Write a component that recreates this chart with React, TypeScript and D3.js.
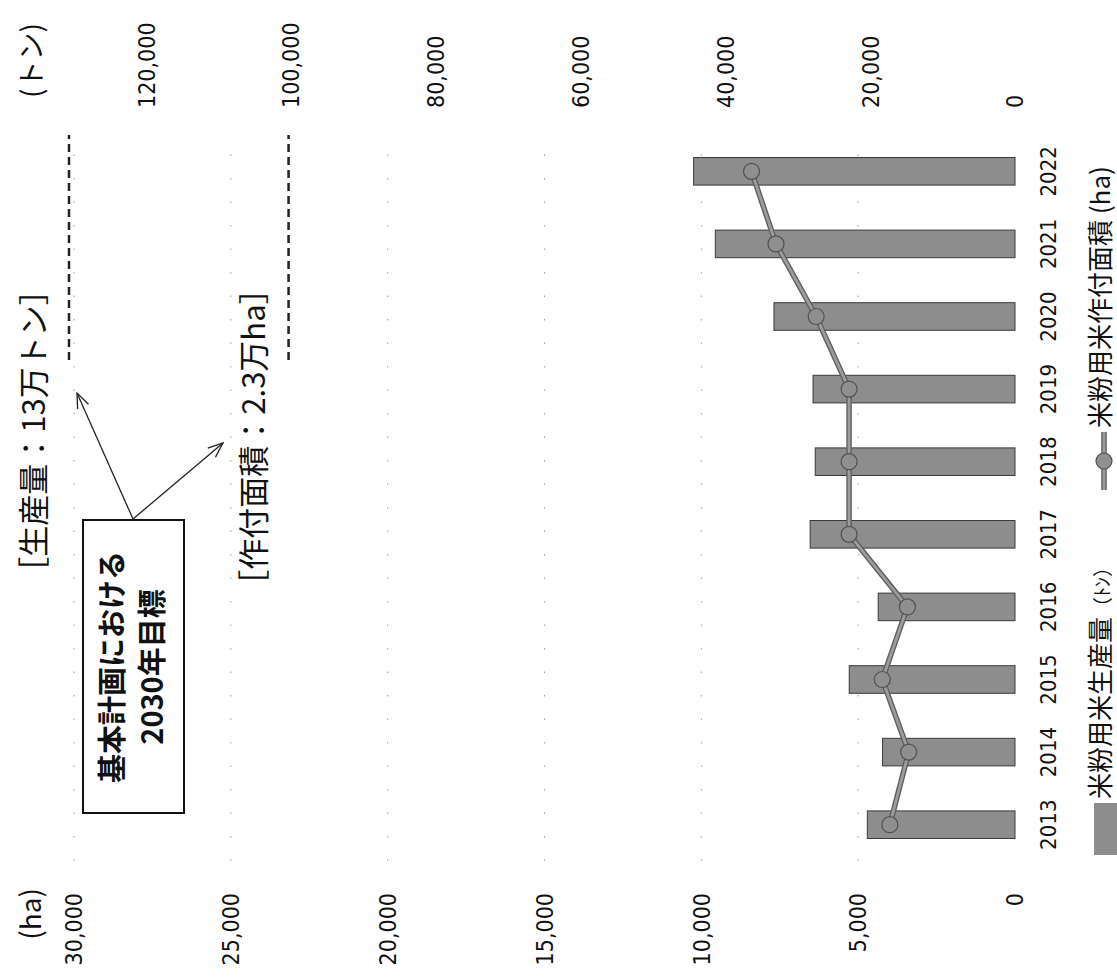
import React from 'react';
import * as d3 from 'd3';

// ---- data ----
const years = ['2013', '2014', '2015', '2016', '2017', '2018', '2019', '2020', '2021', '2022'];
const production = [20400, 18300, 22900, 18900, 28300, 27600, 27900, 33300, 41400, 44400]; // トン
const area = [3990, 3390, 4230, 3430, 5290, 5290, 5290, 6340, 7620, 8400]; // ha
const haTicks = [0, 5000, 10000, 15000, 20000, 25000, 30000];
const tonTicks = [0, 20000, 40000, 60000, 80000, 100000, 120000];
const targetTon = 130000;
const targetHa = 23000;

const IMG_W = 1117;
const IMG_H = 977;

const CJK = "'Noto Sans CJK JP', 'Noto Sans CJK SC', sans-serif";
const NUM = "'DejaVu Sans Condensed', 'Liberation Sans', sans-serif";

export default function App() {
  // frame of the unrotated chart (width 977, height 1117), then rotated -90deg
  const plotLeft = 116;
  const plotRight = 842;
  const plotTop = 74;
  const plotBottom = 1015;

  const x = d3.scaleBand<string>().domain(years).range([plotLeft, plotRight]).paddingInner(0.62).paddingOuter(0.31);
  const yL = d3.scaleLinear().domain([0, 30000]).range([plotBottom, plotTop]);
  const yR = d3.scaleLinear().domain([0, 130000]).range([plotBottom, plotTop]);
  const fmt = d3.format(',');

  const lineGen = d3
    .line<number>()
    .x((_, i) => (x(years[i]) as number) + x.bandwidth() / 2)
    .y((d) => yL(d));
  const linePath = lineGen(area) || '';

  const tonLineV = yR(targetTon) - 5;
  const haLineV = yL(targetHa) - 5;

  const apex = { u: 458, v: 133 };
  const tip1 = { u: 584, v: tonLineV + 8 };
  const tip2 = { u: 534, v: 223 };

  const arrowHead = (from: { u: number; v: number }, to: { u: number; v: number }) => {
    const ang = Math.atan2(to.v - from.v, to.u - from.u);
    const len = 16;
    const spread = 0.38;
    const a1 = ang + Math.PI - spread;
    const a2 = ang + Math.PI + spread;
    return `M${to.u + len * Math.cos(a1)},${to.v + len * Math.sin(a1)}L${to.u},${to.v}L${to.u + len * Math.cos(a2)},${to.v + len * Math.sin(a2)}`;
  };

  return (
    <svg
      width={IMG_W}
      height={IMG_H}
      style={{ position: 'absolute', left: 0, top: 0, background: '#fff' }}
    >
      <rect x={0} y={0} width={IMG_W} height={IMG_H} fill="#fff" />
      <g transform={`translate(0,${IMG_H}) rotate(-90)`}>
        {/* gridlines (faint dotted) */}
        {haTicks.slice(1).map((t) => (
          <line
            key={'g' + t}
            x1={plotLeft}
            x2={plotRight}
            y1={yL(t)}
            y2={yL(t)}
            stroke="#9a9a9a"
            strokeWidth={1}
            strokeDasharray="1.5 22"
          />
        ))}

        {/* bars */}
        {production.map((d, i) => (
          <rect
            key={'b' + i}
            x={x(years[i])}
            y={yR(d)}
            width={x.bandwidth()}
            height={plotBottom - yR(d)}
            fill="#8d8d8d"
            stroke="#3a3a3a"
            strokeWidth={1}
          />
        ))}

        {/* line */}
        <path d={linePath} fill="none" stroke="#5e5e5e" strokeWidth={5.5} />
        <path d={linePath} fill="none" stroke="#9c9c9c" strokeWidth={2.8} />
        {area.map((d, i) => (
          <circle
            key={'m' + i}
            cx={(x(years[i]) as number) + x.bandwidth() / 2}
            cy={yL(d)}
            r={8}
            fill="#8f8f8f"
            stroke="#505050"
            strokeWidth={1.2}
          />
        ))}

        {/* left axis labels (ha) */}
        {haTicks.map((t) => (
          <text
            key={'l' + t}
            x={84}
            y={yL(t)}
            dy="0.36em"
            textAnchor="end"
            fontFamily={NUM}
            fontSize={23}
            fill="#111"
          >
            {fmt(t)}
          </text>
        ))}
        {/* right axis labels (トン) */}
        {tonTicks.map((t) => (
          <text
            key={'r' + t}
            x={869}
            y={yR(t)}
            dy="0.36em"
            textAnchor="start"
            fontFamily={NUM}
            fontSize={23}
            fill="#111"
          >
            {fmt(t)}
          </text>
        ))}
        {/* category labels */}
        {years.map((yv) => (
          <text
            key={'c' + yv}
            x={(x(yv) as number) + x.bandwidth() / 2}
            y={1056}
            textAnchor="middle"
            fontFamily={NUM}
            fontSize={22}
            fill="#111"
          >
            {yv}
          </text>
        ))}

        {/* units */}
        <text x={89} y={41} textAnchor="end" fontFamily={CJK} fontSize={28} fill="#111">
          (ha)
        </text>
        <text x={879} y={42} textAnchor="start" fontFamily={CJK} fontSize={28} fill="#111">
          (トン)
        </text>

        {/* target lines */}
        <line
          x1={617}
          x2={plotRight}
          y1={tonLineV}
          y2={tonLineV}
          stroke="#222"
          strokeWidth={2.5}
          strokeDasharray="8 5"
        />
        <line
          x1={617}
          x2={plotRight}
          y1={haLineV}
          y2={haLineV}
          stroke="#222"
          strokeWidth={2.5}
          strokeDasharray="8 5"
        />
        <text x={546} y={45} textAnchor="middle" fontFamily={CJK} fontSize={31} fill="#111">
          ［生産量：13万トン］
        </text>
        <text x={540} y={265} textAnchor="middle" fontFamily={CJK} fontSize={31} fill="#111">
          ［作付面積：2.3万ha］
        </text>

        {/* annotation box */}
        <rect x={164} y={83} width={293} height={101} fill="#fff" stroke="#111" strokeWidth={2} />
        <text x={310} y={123} textAnchor="middle" fontFamily={CJK} fontSize={29} fontWeight={700} fill="#111">
          基本計画における
        </text>
        <text x={310} y={163} textAnchor="middle" fontFamily={CJK} fontSize={29} fontWeight={700} fill="#111">
          2030年目標
        </text>
        <line x1={apex.u} y1={apex.v} x2={tip1.u} y2={tip1.v} stroke="#222" strokeWidth={1.3} />
        <line x1={apex.u} y1={apex.v} x2={tip2.u} y2={tip2.v} stroke="#222" strokeWidth={1.3} />
        <path d={arrowHead(apex, tip1)} fill="none" stroke="#222" strokeWidth={1.3} />
        <path d={arrowHead(apex, tip2)} fill="none" stroke="#222" strokeWidth={1.3} />

        {/* legend */}
        <rect x={122} y={1094} width={52} height={24} fill="#8d8d8d" />
        <text x={178} y={1110} fontFamily={CJK} fontSize={26} fill="#111">
          米粉用米生産量<tspan fontSize={20}>（ﾄﾝ）</tspan>
        </text>
        <line x1={487} x2={545} y1={1104} y2={1104} stroke="#5e5e5e" strokeWidth={5.5} />
        <line x1={487} x2={545} y1={1104} y2={1104} stroke="#9c9c9c" strokeWidth={2.8} />
        <circle cx={516} cy={1104} r={8} fill="#8f8f8f" stroke="#505050" strokeWidth={1.2} />
        <text x={549} y={1110} fontFamily={CJK} fontSize={26} fill="#111">
          米粉用米作付面積 (ha)
        </text>
      </g>
    </svg>
  );
}
